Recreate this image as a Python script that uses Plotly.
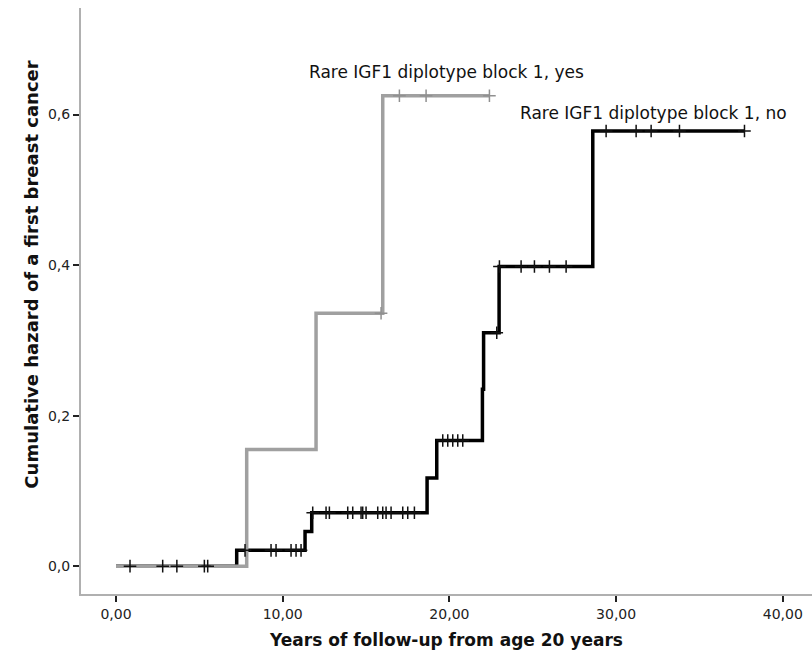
import plotly.graph_objects as go
import numpy as np

# Rare IGF1 diplotype block 1, no (black)
no_times = [0, 7.24, 11.34, 11.74, 18.66, 19.24, 21.98, 22.05, 22.98, 28.6, 37.7]
no_haz = [0, 0.021, 0.046, 0.071, 0.117, 0.167, 0.235, 0.31, 0.398, 0.578, 0.578]
no_censor = [0.84, 2.8, 3.65, 5.3, 5.5, 7.74, 9.3, 9.6, 10.5, 10.8, 11.1, 11.8,
             12.6, 12.8, 13.9, 14.2, 14.7, 14.8, 15.0, 15.7, 16.0, 16.2, 16.5,
             17.2, 17.5, 17.9, 19.6, 19.9, 20.2, 20.5, 20.8, 22.84, 23.0, 24.3,
             25.1, 26.0, 27.0, 29.4, 31.2, 32.1, 33.8, 37.7]

# Rare IGF1 diplotype block 1, yes (gray)
yes_times = [0, 7.84, 12.0, 16.0, 22.4]
yes_haz = [0, 0.155, 0.336, 0.625, 0.625]
yes_censor = [15.9, 17.0, 18.6, 22.4]

x_ticks = [0, 10, 20, 30, 40]
y_ticks = [0, 0.2, 0.4, 0.6]

label_yes = "Rare IGF1 diplotype block 1, yes"
label_no = "Rare IGF1 diplotype block 1, no"
x_title = "Years of follow-up from age 20 years"
y_title = "Cumulative hazard of a first breast cancer"

BLACK = "#000000"
GRAY = "#a0a0a0"


def step_at(times, haz, t):
    idx = np.searchsorted(times, t, side="right") - 1
    return [haz[i] for i in idx]


fig = go.Figure()
fig.add_trace(go.Scatter(x=no_times, y=no_haz, mode="lines", line_shape="hv",
                         line=dict(color=BLACK, width=3.5), showlegend=False,
                         hoverinfo="skip"))
fig.add_trace(go.Scatter(x=yes_times, y=yes_haz, mode="lines", line_shape="hv",
                         line=dict(color=GRAY, width=3.5), showlegend=False,
                         hoverinfo="skip"))
fig.add_trace(go.Scatter(x=no_censor, y=step_at(no_times, no_haz, no_censor),
                         mode="markers",
                         marker=dict(symbol="cross-thin", size=9,
                                     line=dict(color="#111111", width=1.5)),
                         showlegend=False))
fig.add_trace(go.Scatter(x=yes_censor, y=step_at(yes_times, yes_haz, yes_censor),
                         mode="markers",
                         marker=dict(symbol="cross-thin", size=9,
                                     line=dict(color="#909090", width=1.5)),
                         showlegend=False))

fig.add_annotation(x=19.83, y=0.6565, text=label_yes, showarrow=False,
                   xanchor="center", yanchor="middle",
                   font=dict(family="DejaVu Sans", size=17, color="#111111"))
fig.add_annotation(x=32.25, y=0.602, text=label_no, showarrow=False,
                   xanchor="center", yanchor="middle",
                   font=dict(family="DejaVu Sans", size=17, color="#111111"))

# y-axis title placed as rotated text left of the axis
fig.add_annotation(xref="paper", yref="paper", x=0, y=0.545, xshift=-49,
                   text="<b>" + y_title + "</b>", textangle=-90,
                   showarrow=False, xanchor="center", yanchor="middle",
                   font=dict(family="DejaVu Sans", size=18, color="#111111"))

fig.update_layout(
    width=812, height=659,
    margin=dict(l=81, r=0, t=8, b=65),
    paper_bgcolor="white", plot_bgcolor="white",
    separators=", ",
    font=dict(family="DejaVu Sans", color="#111111"),
    xaxis=dict(range=[-2.1, 41.75], tickvals=x_ticks, tickformat=".2f",
               showgrid=False, zeroline=False, showline=True,
               linecolor="#b0b0b0", linewidth=2, ticks="outside", ticklen=6,
               tickwidth=1.5, tickcolor="#222222",
               tickfont=dict(size=14, color="#222222"),
               title=dict(text="<b>" + x_title + "</b>", font=dict(size=17),
                          standoff=13)),
    yaxis=dict(range=[-0.037, 0.7415], tickvals=y_ticks, tickformat=".1f",
               showgrid=False, zeroline=False, showline=True,
               linecolor="#b0b0b0", linewidth=2, ticks="outside", ticklen=6,
               tickwidth=1.5, tickcolor="#222222",
               tickfont=dict(size=14, color="#222222")),
)

fig.write_html("out.html")
